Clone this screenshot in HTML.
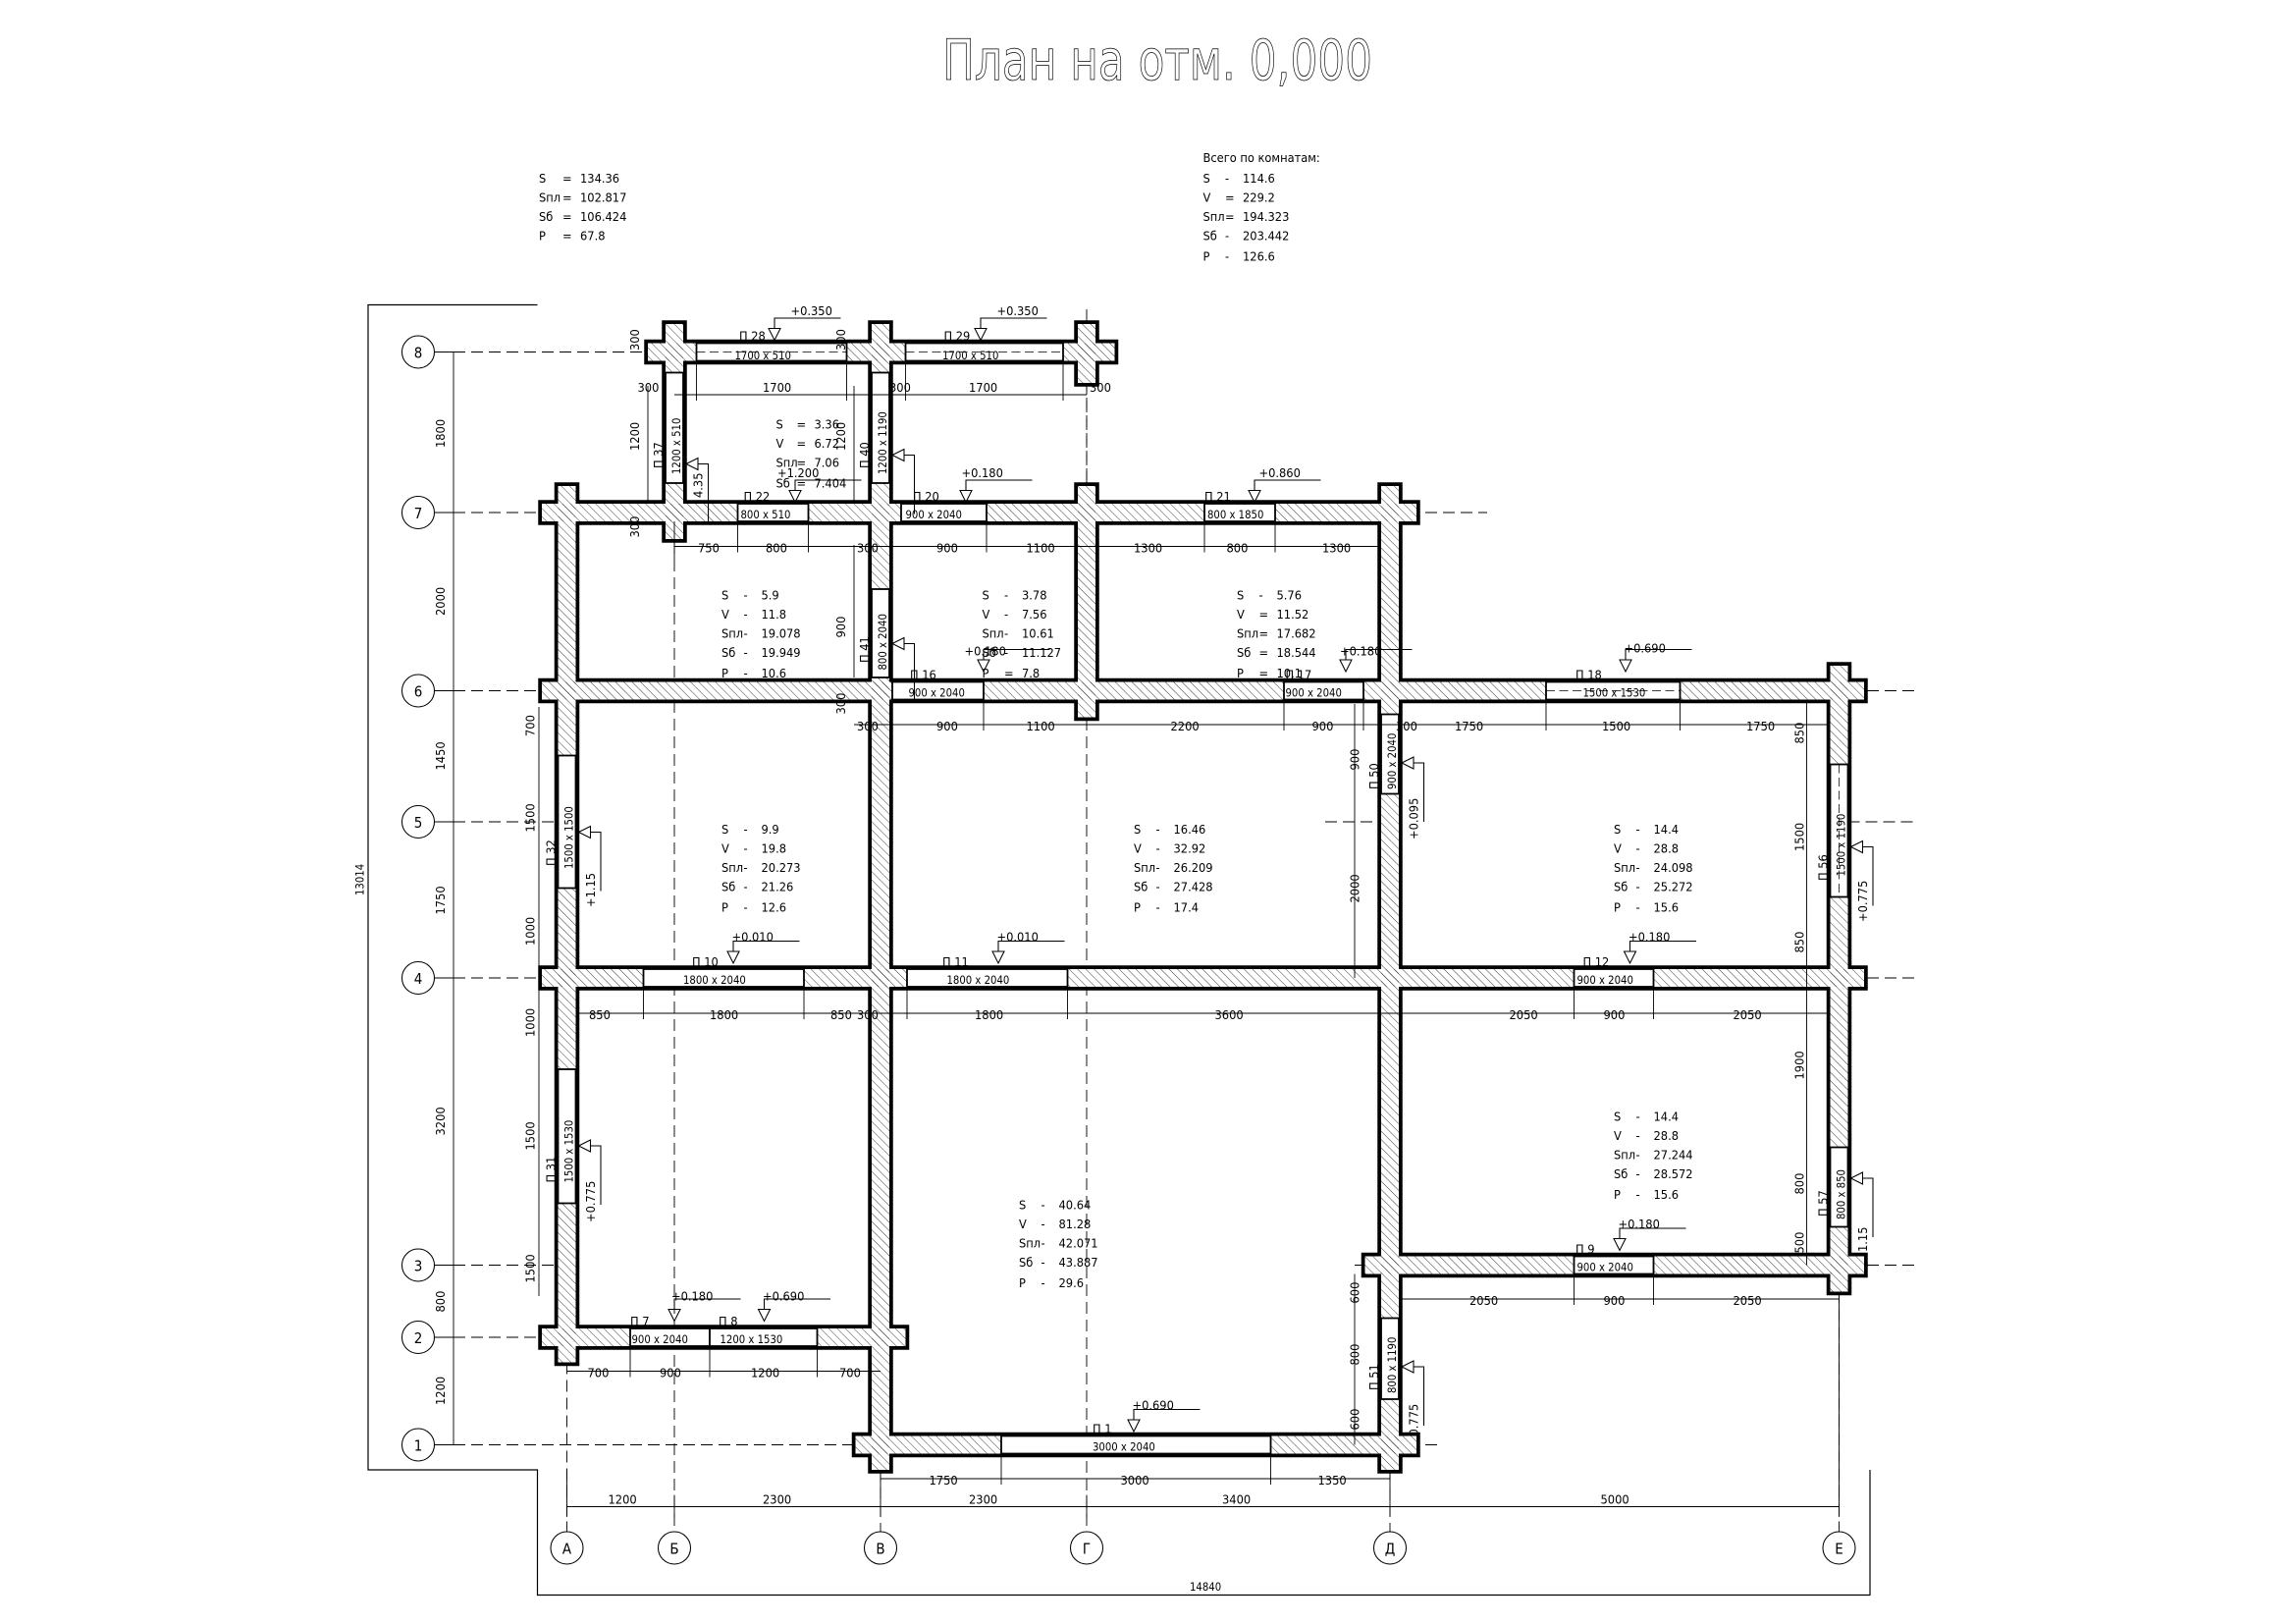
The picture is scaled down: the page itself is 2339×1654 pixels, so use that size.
<!DOCTYPE html>
<html><head><meta charset="utf-8"><style>
html,body{margin:0;padding:0;background:#fff;}
svg{display:block;}
text{font-family:"Liberation Sans Narrow","DejaVu Sans Condensed","Liberation Sans",sans-serif;font-size:8.5px;fill:#000;}
.t{font-size:7.5px;}
.ax{font-size:10px;text-anchor:middle;}
</style></head><body>
<svg width="2339" height="1654" viewBox="0 0 1559.33 1102.67" xmlns="http://www.w3.org/2000/svg">
<defs>
<pattern id="h" width="4" height="4" patternUnits="userSpaceOnUse" patternTransform="rotate(-45)">
<line x1="0" y1="0" x2="0" y2="4" stroke="#000" stroke-width="0.5"/>
</pattern>
<g id="lv"><polygon points="-4,-8 4,-8 0,0" fill="none" stroke="#000" stroke-width="0.7"/><polyline points="0,-8 0,-15 45,-15" fill="none" stroke="#000" stroke-width="0.7"/></g>
<g id="lvv"><polygon points="0,0 8,-4 8,4" fill="none" stroke="#000" stroke-width="0.7"/><polyline points="8,0 15,0 15,40" fill="none" stroke="#000" stroke-width="0.7"/></g>
</defs>

<!-- Title -->
<text x="640" y="54" style="font-size:38px;font-family:'Liberation Sans Narrow','DejaVu Sans Condensed','Liberation Sans',sans-serif;fill:#fff;stroke:#000;stroke-width:0.5" textLength="292" lengthAdjust="spacingAndGlyphs">План на отм. 0,000</text>

<!-- top stats -->
<g>
<text x="366" y="124">S</text><text x="382" y="124">=</text><text x="394" y="124">134.36</text>
<text x="366" y="137">Sпл</text><text x="382" y="137">=</text><text x="394" y="137">102.817</text>
<text x="366" y="150">Sб</text><text x="382" y="150">=</text><text x="394" y="150">106.424</text>
<text x="366" y="163">P</text><text x="382" y="163">=</text><text x="394" y="163">67.8</text>
<text x="817" y="110">Всего по комнатам:</text>
<text x="817" y="124">S</text><text x="832" y="124">-</text><text x="844" y="124">114.6</text>
<text x="817" y="137">V</text><text x="832" y="137">=</text><text x="844" y="137">229.2</text>
<text x="817" y="150">Sпл</text><text x="832" y="150">=</text><text x="844" y="150">194.323</text>
<text x="817" y="163">Sб</text><text x="832" y="163">-</text><text x="844" y="163">203.442</text>
<text x="817" y="177">P</text><text x="832" y="177">-</text><text x="844" y="177">126.6</text>
</g>

<!-- outer frame -->
<polyline points="365,207 250,207 250,998 365,998 365,1083 1270,1083 1270,998" fill="none" stroke="#000" stroke-width="0.8"/>
<text x="247" y="608" transform="rotate(-90 247 608)" class="t">13014</text>
<text x="808" y="1080" class="t">14840</text>

<!-- axis lines -->
<g stroke="#000" stroke-width="0.6" stroke-dasharray="8,4" fill="none">
<line x1="296" y1="239" x2="757" y2="239"/>
<line x1="296" y1="348" x2="1010" y2="348"/>
<line x1="296" y1="469" x2="1300" y2="469"/>
<line x1="296" y1="558" x2="380" y2="558"/><line x1="1255" y1="558" x2="1300" y2="558"/><line x1="900" y1="558" x2="945" y2="558"/>
<line x1="296" y1="664" x2="1300" y2="664"/>
<line x1="296" y1="859" x2="380" y2="859"/><line x1="920" y1="859" x2="1300" y2="859"/>
<line x1="296" y1="908" x2="380" y2="908"/>
<line x1="296" y1="981" x2="590" y2="981"/><line x1="944" y1="981" x2="980" y2="981"/>
<line x1="385" y1="925" x2="385" y2="1040"/>
<line x1="458" y1="260" x2="458" y2="1040"/>
<line x1="598" y1="998" x2="598" y2="1040"/>
<line x1="738" y1="260" x2="738" y2="1040"/>
<line x1="944" y1="998" x2="944" y2="1040"/>
<line x1="1249" y1="877" x2="1249" y2="1040"/>
<line x1="738" y1="210" x2="738" y2="330"/>
</g>

<!-- axis bubbles -->
<g fill="#fff" stroke="#000" stroke-width="0.7">
<circle cx="284" cy="239" r="11"/><circle cx="284" cy="348" r="11"/><circle cx="284" cy="469" r="11"/><circle cx="284" cy="558" r="11"/><circle cx="284" cy="664" r="11"/><circle cx="284" cy="859" r="11"/><circle cx="284" cy="908" r="11"/><circle cx="284" cy="981" r="11"/>
<circle cx="385" cy="1051" r="11"/><circle cx="458" cy="1051" r="11"/><circle cx="598" cy="1051" r="11"/><circle cx="738" cy="1051" r="11"/><circle cx="944" cy="1051" r="11"/><circle cx="1249" cy="1051" r="11"/>
</g>
<g class="ax">
<text class="ax" x="284" y="243">8</text><text class="ax" x="284" y="352">7</text><text class="ax" x="284" y="473">6</text><text class="ax" x="284" y="562">5</text><text class="ax" x="284" y="668">4</text><text class="ax" x="284" y="863">3</text><text class="ax" x="284" y="912">2</text><text class="ax" x="284" y="985">1</text>
<text class="ax" x="385" y="1055">А</text><text class="ax" x="458" y="1055">Б</text><text class="ax" x="598" y="1055">В</text><text class="ax" x="738" y="1055">Г</text><text class="ax" x="944" y="1055">Д</text><text class="ax" x="1249" y="1055">Е</text>
</g>
<g stroke="#000" stroke-width="0.6">
<line x1="295" y1="239" x2="310" y2="239"/><line x1="295" y1="348" x2="310" y2="348"/><line x1="295" y1="469" x2="310" y2="469"/><line x1="295" y1="558" x2="310" y2="558"/><line x1="295" y1="664" x2="310" y2="664"/><line x1="295" y1="859" x2="310" y2="859"/><line x1="295" y1="908" x2="310" y2="908"/><line x1="295" y1="981" x2="310" y2="981"/>
</g>

<!-- walls: outline pass -->
<g stroke="#000" stroke-width="5" fill="#000">
<rect x="368" y="342" width="594" height="12"/>
<rect x="368" y="463" width="898" height="12"/>
<rect x="368" y="658" width="898" height="12"/>
<rect x="927" y="853" width="339" height="12"/>
<rect x="368" y="902" width="247" height="12"/>
<rect x="581" y="975" width="381" height="12"/>
<rect x="440" y="233" width="317" height="12"/>
<rect x="379" y="330" width="12" height="595"/>
<rect x="452" y="220" width="12" height="146"/>
<rect x="592" y="220" width="12" height="778"/>
<rect x="732" y="220" width="12" height="40"/>
<rect x="732" y="330" width="12" height="157"/>
<rect x="938" y="330" width="12" height="668"/>
<rect x="1243" y="452" width="12" height="425"/>
</g>
<g fill="#fff">
<rect x="368" y="342" width="594" height="12"/>
<rect x="368" y="463" width="898" height="12"/>
<rect x="368" y="658" width="898" height="12"/>
<rect x="927" y="853" width="339" height="12"/>
<rect x="368" y="902" width="247" height="12"/>
<rect x="581" y="975" width="381" height="12"/>
<rect x="440" y="233" width="317" height="12"/>
<rect x="379" y="330" width="12" height="595"/>
<rect x="452" y="220" width="12" height="146"/>
<rect x="592" y="220" width="12" height="778"/>
<rect x="732" y="220" width="12" height="40"/>
<rect x="732" y="330" width="12" height="157"/>
<rect x="938" y="330" width="12" height="668"/>
<rect x="1243" y="452" width="12" height="425"/>
</g>
<g fill="url(#h)">
<rect x="368" y="342" width="594" height="12"/>
<rect x="368" y="463" width="898" height="12"/>
<rect x="368" y="658" width="898" height="12"/>
<rect x="927" y="853" width="339" height="12"/>
<rect x="368" y="902" width="247" height="12"/>
<rect x="581" y="975" width="381" height="12"/>
<rect x="440" y="233" width="317" height="12"/>
<rect x="379" y="330" width="12" height="595"/>
<rect x="452" y="220" width="12" height="146"/>
<rect x="592" y="220" width="12" height="778"/>
<rect x="732" y="220" width="12" height="40"/>
<rect x="732" y="330" width="12" height="157"/>
<rect x="938" y="330" width="12" height="668"/>
<rect x="1243" y="452" width="12" height="425"/>
</g>

<!-- openings -->
<g fill="#fff" stroke="#000" stroke-width="1.2">
<rect x="473" y="233" width="102" height="12"/>
<rect x="615" y="233" width="107" height="12"/>
<rect x="501" y="342" width="48" height="12"/>
<rect x="612" y="342" width="58" height="12"/>
<rect x="818" y="342" width="48" height="12"/>
<rect x="606" y="463" width="62" height="12"/>
<rect x="872" y="463" width="54" height="12"/>
<rect x="1050" y="463" width="91" height="12"/>
<rect x="437" y="658" width="109" height="12"/>
<rect x="616" y="658" width="109" height="12"/>
<rect x="1069" y="658" width="54" height="12"/>
<rect x="1069" y="853" width="54" height="12"/>
<rect x="428" y="902" width="54" height="12"/>
<rect x="482" y="902" width="73" height="12"/>
<rect x="680" y="975" width="183" height="12"/>
<rect x="379" y="513" width="12" height="90"/>
<rect x="379" y="726" width="12" height="91"/>
<rect x="1243" y="519" width="12" height="90"/>
<rect x="1243" y="779" width="12" height="54"/>
<rect x="938" y="485" width="12" height="54"/>
<rect x="938" y="895" width="12" height="55"/>
<rect x="452" y="253" width="12" height="75"/>
<rect x="592" y="253" width="12" height="75"/>
<rect x="592" y="400" width="12" height="60"/>
</g>
<g stroke="#000" stroke-width="0.5" stroke-dasharray="6,3">
<line x1="473" y1="239" x2="575" y2="239"/><line x1="615" y1="239" x2="722" y2="239"/>
<line x1="1050" y1="469" x2="1141" y2="469"/>
<line x1="1249" y1="519" x2="1249" y2="609"/>
</g>
<g class="t">
<text class="t" x="499" y="244">1700 x 510</text><text class="t" x="640" y="244">1700 x 510</text>
<text class="t" x="503" y="352">800 x 510</text><text class="t" x="615" y="352">900 x 2040</text><text class="t" x="820" y="352">800 x 1850</text>
<text class="t" x="617" y="473">900 x 2040</text><text class="t" x="873" y="473">900 x 2040</text><text class="t" x="1075" y="473">1500 x 1530</text>
<text class="t" x="464" y="668">1800 x 2040</text><text class="t" x="643" y="668">1800 x 2040</text><text class="t" x="1071" y="668">900 x 2040</text>
<text class="t" x="1071" y="863">900 x 2040</text>
<text class="t" x="429" y="912">900 x 2040</text><text class="t" x="489" y="912">1200 x 1530</text>
<text class="t" x="742" y="985">3000 x 2040</text>
<text class="t" x="389" y="590" transform="rotate(-90 389 590)">1500 x 1500</text>
<text class="t" x="389" y="803" transform="rotate(-90 389 803)">1500 x 1530</text>
<text class="t" x="1253" y="595" transform="rotate(-90 1253 595)">1500 x 1190</text>
<text class="t" x="1253" y="828" transform="rotate(-90 1253 828)">800 x 850</text>
<text class="t" x="948" y="536" transform="rotate(-90 948 536)">900 x 2040</text>
<text class="t" x="948" y="946" transform="rotate(-90 948 946)">800 x 1190</text>
<text class="t" x="462" y="322" transform="rotate(-90 462 322)">1200 x 510</text>
<text class="t" x="602" y="322" transform="rotate(-90 602 322)">1200 x 1190</text>
<text class="t" x="602" y="455" transform="rotate(-90 602 455)">800 x 2040</text>
</g>
<g>
<text x="502" y="231">П 28</text><text x="641" y="231">П 29</text>
<text x="505" y="340">П 22</text><text x="620" y="340">П 20</text><text x="818" y="340">П 21</text>
<text x="618" y="461">П 16</text><text x="873" y="461">П 17</text><text x="1070" y="461">П 18</text>
<text x="470" y="656">П 10</text><text x="640" y="656">П 11</text><text x="1075" y="656">П 12</text>
<text x="1070" y="851">П 9</text>
<text x="428" y="900">П 7</text><text x="488" y="900">П 8</text>
<text x="742" y="973">П 1</text>
<text x="377" y="588" transform="rotate(-90 377 588)">П 32</text>
<text x="377" y="803" transform="rotate(-90 377 803)">П 31</text>
<text x="1241" y="598" transform="rotate(-90 1241 598)">П 56</text>
<text x="1241" y="826" transform="rotate(-90 1241 826)">П 57</text>
<text x="936" y="536" transform="rotate(-90 936 536)">П 50</text>
<text x="936" y="944" transform="rotate(-90 936 944)">П 51</text>
<text x="450" y="318" transform="rotate(-90 450 318)">П 37</text>
<text x="590" y="318" transform="rotate(-90 590 318)">П 40</text>
<text x="590" y="450" transform="rotate(-90 590 450)">П 41</text>
</g>

<!-- level markers -->
<use href="#lv" x="526" y="231"/><text x="537" y="214">+0.350</text>
<use href="#lv" x="666" y="231"/><text x="677" y="214">+0.350</text>
<use href="#lv" x="656" y="341"/><text x="653" y="324">+0.180</text>
<use href="#lv" x="852" y="341"/><text x="855" y="324">+0.860</text>
<use href="#lv" x="540" y="341"/><text x="528" y="324">+1.200</text>
<use href="#lv" x="668" y="456"/><text x="655" y="445">+0.180</text>
<use href="#lv" x="914" y="456"/><text x="910" y="445">+0.180</text>
<use href="#lv" x="1104" y="456"/><text x="1103" y="443">+0.690</text>
<use href="#lv" x="498" y="654"/><text x="497" y="639">+0.010</text>
<use href="#lv" x="678" y="654"/><text x="677" y="639">+0.010</text>
<use href="#lv" x="1107" y="654"/><text x="1106" y="639">+0.180</text>
<use href="#lv" x="1100" y="849"/><text x="1099" y="834">+0.180</text>
<use href="#lv" x="458" y="897"/><text x="456" y="883">+0.180</text>
<use href="#lv" x="519" y="897"/><text x="518" y="883">+0.690</text>
<use href="#lv" x="770" y="972"/><text x="769" y="957">+0.690</text>
<use href="#lvv" x="393" y="565"/><text x="404" y="616" transform="rotate(-90 404 616)">+1.15</text>
<use href="#lvv" x="393" y="778"/><text x="404" y="830" transform="rotate(-90 404 830)">+0.775</text>
<use href="#lvv" x="952" y="518"/><text x="963" y="570" transform="rotate(-90 963 570)">+0.095</text>
<use href="#lvv" x="1257" y="575"/><text x="1268" y="626" transform="rotate(-90 1268 626)">+0.775</text>
<use href="#lvv" x="1257" y="800"/><text x="1268" y="850" transform="rotate(-90 1268 850)">1.15</text>
<use href="#lvv" x="952" y="928"/><text x="963" y="975" transform="rotate(-90 963 975)">0.775</text>
<use href="#lvv" x="466" y="315"/><text x="477" y="338" transform="rotate(-90 477 338)">4.35</text>
<use href="#lvv" x="606" y="309"/>
<use href="#lvv" x="606" y="437"/>

<!-- room data -->
<g>
<text x="527" y="291">S</text><text x="541" y="291">=</text><text x="553" y="291">3.36</text>
<text x="527" y="304">V</text><text x="541" y="304">=</text><text x="553" y="304">6.72</text>
<text x="527" y="317">Sпл</text><text x="541" y="317">=</text><text x="553" y="317">7.06</text>
<text x="527" y="331">Sб</text><text x="541" y="331">=</text><text x="553" y="331">7.404</text>

<text x="490" y="407">S</text><text x="505" y="407">-</text><text x="517" y="407">5.9</text>
<text x="490" y="420">V</text><text x="505" y="420">-</text><text x="517" y="420">11.8</text>
<text x="490" y="433">Sпл</text><text x="505" y="433">-</text><text x="517" y="433">19.078</text>
<text x="490" y="446">Sб</text><text x="505" y="446">-</text><text x="517" y="446">19.949</text>
<text x="490" y="460">P</text><text x="505" y="460">-</text><text x="517" y="460">10.6</text>

<text x="667" y="407">S</text><text x="682" y="407">-</text><text x="694" y="407">3.78</text>
<text x="667" y="420">V</text><text x="682" y="420">-</text><text x="694" y="420">7.56</text>
<text x="667" y="433">Sпл</text><text x="682" y="433">-</text><text x="694" y="433">10.61</text>
<text x="667" y="446">Sб</text><text x="682" y="446">-</text><text x="694" y="446">11.127</text>
<text x="667" y="460">P</text><text x="682" y="460">=</text><text x="694" y="460">7.8</text>

<text x="840" y="407">S</text><text x="855" y="407">-</text><text x="867" y="407">5.76</text>
<text x="840" y="420">V</text><text x="855" y="420">=</text><text x="867" y="420">11.52</text>
<text x="840" y="433">Sпл</text><text x="855" y="433">=</text><text x="867" y="433">17.682</text>
<text x="840" y="446">Sб</text><text x="855" y="446">=</text><text x="867" y="446">18.544</text>
<text x="840" y="460">P</text><text x="855" y="460">=</text><text x="867" y="460">10.1</text>

<text x="490" y="566">S</text><text x="505" y="566">-</text><text x="517" y="566">9.9</text>
<text x="490" y="579">V</text><text x="505" y="579">-</text><text x="517" y="579">19.8</text>
<text x="490" y="592">Sпл</text><text x="505" y="592">-</text><text x="517" y="592">20.273</text>
<text x="490" y="605">Sб</text><text x="505" y="605">-</text><text x="517" y="605">21.26</text>
<text x="490" y="619">P</text><text x="505" y="619">-</text><text x="517" y="619">12.6</text>

<text x="770" y="566">S</text><text x="785" y="566">-</text><text x="797" y="566">16.46</text>
<text x="770" y="579">V</text><text x="785" y="579">-</text><text x="797" y="579">32.92</text>
<text x="770" y="592">Sпл</text><text x="785" y="592">-</text><text x="797" y="592">26.209</text>
<text x="770" y="605">Sб</text><text x="785" y="605">-</text><text x="797" y="605">27.428</text>
<text x="770" y="619">P</text><text x="785" y="619">-</text><text x="797" y="619">17.4</text>

<text x="1096" y="566">S</text><text x="1111" y="566">-</text><text x="1123" y="566">14.4</text>
<text x="1096" y="579">V</text><text x="1111" y="579">-</text><text x="1123" y="579">28.8</text>
<text x="1096" y="592">Sпл</text><text x="1111" y="592">-</text><text x="1123" y="592">24.098</text>
<text x="1096" y="605">Sб</text><text x="1111" y="605">-</text><text x="1123" y="605">25.272</text>
<text x="1096" y="619">P</text><text x="1111" y="619">-</text><text x="1123" y="619">15.6</text>

<text x="1096" y="761">S</text><text x="1111" y="761">-</text><text x="1123" y="761">14.4</text>
<text x="1096" y="774">V</text><text x="1111" y="774">-</text><text x="1123" y="774">28.8</text>
<text x="1096" y="787">Sпл</text><text x="1111" y="787">-</text><text x="1123" y="787">27.244</text>
<text x="1096" y="800">Sб</text><text x="1111" y="800">-</text><text x="1123" y="800">28.572</text>
<text x="1096" y="814">P</text><text x="1111" y="814">-</text><text x="1123" y="814">15.6</text>

<text x="692" y="821">S</text><text x="707" y="821">-</text><text x="719" y="821">40.64</text>
<text x="692" y="834">V</text><text x="707" y="834">-</text><text x="719" y="834">81.28</text>
<text x="692" y="847">Sпл</text><text x="707" y="847">-</text><text x="719" y="847">42.071</text>
<text x="692" y="860">Sб</text><text x="707" y="860">-</text><text x="719" y="860">43.887</text>
<text x="692" y="874">P</text><text x="707" y="874">-</text><text x="719" y="874">29.6</text>
</g>

<!-- dimension lines -->
<g stroke="#000" stroke-width="0.6" fill="none">
<line x1="308" y1="239" x2="308" y2="981"/>
<line x1="385" y1="1023" x2="1249" y2="1023"/>
<line x1="385" y1="998" x2="385" y2="1030"/><line x1="458" y1="1015" x2="458" y2="1030"/><line x1="598" y1="1000" x2="598" y2="1030"/><line x1="738" y1="1015" x2="738" y2="1030"/><line x1="944" y1="1000" x2="944" y2="1030"/><line x1="1249" y1="877" x2="1249" y2="1030"/>
<line x1="458" y1="268" x2="738" y2="268"/>
<line x1="458" y1="371" x2="938" y2="371"/>
<line x1="580" y1="492" x2="1243" y2="492"/>
<line x1="391" y1="688" x2="1243" y2="688"/>
<line x1="950" y1="882" x2="1249" y2="882"/>
<line x1="385" y1="931" x2="598" y2="931"/>
<line x1="598" y1="1004" x2="944" y2="1004"/>
<line x1="366" y1="480" x2="366" y2="880"/>
<line x1="920" y1="478" x2="920" y2="664"/>
<line x1="920" y1="865" x2="920" y2="981"/>
<line x1="1227" y1="475" x2="1227" y2="859"/>
<line x1="440" y1="262" x2="440" y2="340"/>
<line x1="580" y1="370" x2="580" y2="460"/>
<line x1="580" y1="262" x2="580" y2="340"/>
<line x1="473" y1="245" x2="473" y2="272"/><line x1="575" y1="245" x2="575" y2="272"/><line x1="615" y1="245" x2="615" y2="272"/><line x1="722" y1="245" x2="722" y2="272"/>
<line x1="501" y1="354" x2="501" y2="375"/><line x1="549" y1="354" x2="549" y2="375"/><line x1="670" y1="354" x2="670" y2="375"/><line x1="818" y1="354" x2="818" y2="375"/><line x1="866" y1="354" x2="866" y2="375"/><line x1="458" y1="354" x2="458" y2="380"/>
<line x1="668" y1="475" x2="668" y2="496"/><line x1="872" y1="475" x2="872" y2="496"/><line x1="926" y1="475" x2="926" y2="496"/><line x1="1050" y1="475" x2="1050" y2="496"/><line x1="1141" y1="475" x2="1141" y2="496"/><line x1="606" y1="475" x2="606" y2="496"/>
<line x1="437" y1="670" x2="437" y2="692"/><line x1="546" y1="670" x2="546" y2="692"/><line x1="616" y1="670" x2="616" y2="692"/><line x1="725" y1="670" x2="725" y2="692"/><line x1="1069" y1="670" x2="1069" y2="692"/><line x1="1123" y1="670" x2="1123" y2="692"/>
<line x1="1069" y1="865" x2="1069" y2="886"/><line x1="1123" y1="865" x2="1123" y2="886"/>
<line x1="428" y1="914" x2="428" y2="935"/><line x1="482" y1="914" x2="482" y2="935"/><line x1="555" y1="914" x2="555" y2="935"/>
<line x1="680" y1="987" x2="680" y2="1008"/><line x1="863" y1="987" x2="863" y2="1008"/>
</g>
<g>
<text x="302" y="304" transform="rotate(-90 302 304)">1800</text>
<text x="302" y="418" transform="rotate(-90 302 418)">2000</text>
<text x="302" y="523" transform="rotate(-90 302 523)">1450</text>
<text x="302" y="621" transform="rotate(-90 302 621)">1750</text>
<text x="302" y="771" transform="rotate(-90 302 771)">3200</text>
<text x="302" y="891" transform="rotate(-90 302 891)">800</text>
<text x="302" y="954" transform="rotate(-90 302 954)">1200</text>
<text x="413" y="1021">1200</text><text x="518" y="1021">2300</text><text x="658" y="1021">2300</text><text x="830" y="1021">3400</text><text x="1087" y="1021">5000</text>
<text x="433" y="266">300</text><text x="518" y="266">1700</text><text x="658" y="266">1700</text><text x="604" y="266">300</text><text x="740" y="266">300</text>
<text x="474" y="375">750</text><text x="520" y="375">800</text><text x="636" y="375">900</text><text x="697" y="375">1100</text><text x="770" y="375">1300</text><text x="833" y="375">800</text><text x="898" y="375">1300</text><text x="582" y="375">300</text>
<text x="582" y="496">300</text><text x="636" y="496">900</text><text x="697" y="496">1100</text><text x="795" y="496">2200</text><text x="891" y="496">900</text><text x="988" y="496">1750</text><text x="1088" y="496">1500</text><text x="1186" y="496">1750</text><text x="948" y="496">300</text>
<text x="400" y="692">850</text><text x="482" y="692">1800</text><text x="564" y="692">850</text><text x="582" y="692">300</text><text x="662" y="692">1800</text><text x="825" y="692">3600</text><text x="1025" y="692">2050</text><text x="1089" y="692">900</text><text x="1177" y="692">2050</text>
<text x="998" y="886">2050</text><text x="1089" y="886">900</text><text x="1177" y="886">2050</text>
<text x="399" y="935">700</text><text x="448" y="935">900</text><text x="510" y="935">1200</text><text x="570" y="935">700</text>
<text x="631" y="1008">1750</text><text x="761" y="1008">3000</text><text x="895" y="1008">1350</text>
<text x="363" y="500" transform="rotate(-90 363 500)">700</text>
<text x="363" y="565" transform="rotate(-90 363 565)">1500</text>
<text x="363" y="642" transform="rotate(-90 363 642)">1000</text>
<text x="363" y="704" transform="rotate(-90 363 704)">1000</text>
<text x="363" y="781" transform="rotate(-90 363 781)">1500</text>
<text x="363" y="871" transform="rotate(-90 363 871)">1500</text>
<text x="923" y="523" transform="rotate(-90 923 523)">900</text>
<text x="923" y="613" transform="rotate(-90 923 613)">2000</text>
<text x="923" y="885" transform="rotate(-90 923 885)">600</text>
<text x="923" y="927" transform="rotate(-90 923 927)">800</text>
<text x="923" y="971" transform="rotate(-90 923 971)">600</text>
<text x="1225" y="505" transform="rotate(-90 1225 505)">850</text>
<text x="1225" y="578" transform="rotate(-90 1225 578)">1500</text>
<text x="1225" y="647" transform="rotate(-90 1225 647)">850</text>
<text x="1225" y="733" transform="rotate(-90 1225 733)">1900</text>
<text x="1225" y="811" transform="rotate(-90 1225 811)">800</text>
<text x="1225" y="851" transform="rotate(-90 1225 851)">500</text>
<text x="434" y="306" transform="rotate(-90 434 306)">1200</text>
<text x="574" y="306" transform="rotate(-90 574 306)">1200</text>
<text x="574" y="433" transform="rotate(-90 574 433)">900</text>
<text x="434" y="238" transform="rotate(-90 434 238)">300</text>
<text x="434" y="365" transform="rotate(-90 434 365)">300</text>
<text x="574" y="238" transform="rotate(-90 574 238)">300</text>
<text x="574" y="485" transform="rotate(-90 574 485)">300</text>
</g>
</svg>
</body></html>
